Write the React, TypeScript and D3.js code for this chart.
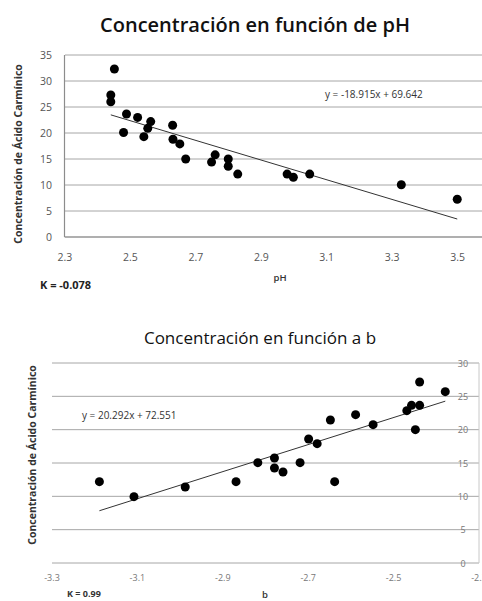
import React from "react";
import * as d3 from "d3";

// pH chart data
const phValues = [2.451, 2.44, 2.44, 2.488, 2.522, 2.562, 2.479, 2.553, 2.541, 2.629, 2.63, 2.651, 2.669, 2.748, 2.759, 2.799, 2.799, 2.828, 2.979, 2.998, 3.048, 3.328, 3.499];
const phConc = [32.3, 27.3, 26.0, 23.65, 23.0, 22.2, 20.1, 20.9, 19.3, 21.5, 18.8, 17.9, 15.0, 14.4, 15.8, 15.0, 13.6, 12.1, 12.1, 11.5, 12.1, 10.05, 7.25];
const phTicksX = [2.3, 2.5, 2.7, 2.9, 3.1, 3.3, 3.5];
const phTicksY = [0, 5, 10, 15, 20, 25, 30, 35];
const phFit = { slope: -18.915, intercept: 69.642 };

// b chart data
const bValues = [-2.439, -2.379, -2.469, -2.458, -2.439, -2.449, -2.548, -2.589, -2.648, -2.699, -2.679, -2.818, -2.779, -2.779, -2.759, -2.719, -2.638, -2.869, -2.988, -3.108, -3.189];
const bConc = [27.15, 25.7, 22.85, 23.65, 23.65, 20.0, 20.75, 22.25, 21.45, 18.6, 17.9, 15.05, 15.75, 14.25, 13.65, 15.05, 12.2, 12.2, 11.4, 9.95, 12.2];
const bTicksX = [-3.3, -3.1, -2.9, -2.7, -2.5, -2.3];
const bTicksY = [0, 5, 10, 15, 20, 25, 30];
const bFit = { slope: 20.292, intercept: 72.551 };

const font = "'Open Sans', 'DejaVu Sans', sans-serif";
const grid = "#a6a6a6";

function PhChart() {
  const x = d3.scaleLinear().domain([2.3, 3.7]).range([65, 523]);
  const y = d3.scaleLinear().domain([0, 35]).range([237, 55]);
  const pts = phValues.map((v, i) => ({ x: v, y: phConc[i] }));
  const [x0, x1] = d3.extent(phValues) as [number, number];
  const fit = (v: number) => phFit.slope * v + phFit.intercept;
  return (
    <g>
      <text x={255} y={32} textAnchor="middle" fontFamily={font} fontSize={20} fontWeight={600} fill="#111">
        Concentración en función de pH
      </text>
      {phTicksY.map((t) => (
        <g key={t}>
          <line x1={x.range()[0]} x2={482} y1={y(t)} y2={y(t)} stroke={grid} strokeWidth={1} />
          <text x={52} y={y(t) + 4} textAnchor="end" fontFamily={font} fontSize={10.5} fill="#555">
            {t}
          </text>
        </g>
      ))}
      <line x1={64.5} x2={64.5} y1={y(35)} y2={y(0)} stroke="#8c8c8c" strokeWidth={1.2} />
      <line x1={64.5} x2={482} y1={y(0)} y2={y(0)} stroke="#8c8c8c" strokeWidth={1.2} />
      {phTicksX.map((t) => (
        <text key={t} x={x(t)} y={261} textAnchor="middle" fontFamily={font} fontSize={10.5} fill="#555">
          {t.toFixed(1)}
        </text>
      ))}
      <line x1={x(x0)} y1={y(fit(x0))} x2={x(x1)} y2={y(fit(x1))} stroke="#333" strokeWidth={1} />
      {pts.map((p, i) => (
        <circle key={i} cx={x(p.x)} cy={y(p.y)} r={4.5} fill="#000" />
      ))}
      <text x={325} y={98} fontFamily={font} fontSize={10} fill="#333">
        y = -18.915x + 69.642
      </text>
      <text x={280} y={281} textAnchor="middle" fontFamily={font} fontSize={9.5} fontWeight={600} fill="#333">
        pH
      </text>
      <text x={40} y={289} fontFamily={font} fontSize={11} fontWeight={700} fill="#222">
        K = -0.078
      </text>
      <text
        transform={`translate(22,${(y(35) + y(0)) / 2 + 8}) rotate(-90)`}
        textAnchor="middle"
        fontFamily={font}
        fontSize={10.5}
        fontWeight={700}
        fill="#333"
      >
        Concentración de Ácido Carmínico
      </text>
    </g>
  );
}

function BChart() {
  const x = d3.scaleLinear().domain([-3.3, -2.3]).range([52, 479]);
  const y = d3.scaleLinear().domain([0, 30]).range([563, 363]);
  const pts = bValues.map((v, i) => ({ x: v, y: bConc[i] }));
  const [x0, x1] = d3.extent(bValues) as [number, number];
  const fit = (v: number) => bFit.slope * v + bFit.intercept;
  return (
    <g>
      <text x={260} y={344} textAnchor="middle" fontFamily={font} fontSize={17} fill="#111">
        Concentración en función a b
      </text>
      {bTicksY.map((t) => (
        <g key={t}>
          <line x1={52} x2={479} y1={y(t)} y2={y(t)} stroke={grid} strokeWidth={1} />
          <text x={463} y={y(t) + 3.5} textAnchor="middle" fontFamily={font} fontSize={9} fill="#777">
            {t}
          </text>
        </g>
      ))}
      <line x1={479} x2={479} y1={y(30)} y2={y(0)} stroke="#c8c8c8" strokeWidth={1} />
      {bTicksX.map((t) => (
        <text key={t} x={x(t)} y={581} textAnchor="middle" fontFamily={font} fontSize={9} fill="#777">
          {t.toFixed(1)}
        </text>
      ))}
      <line x1={x(x0)} y1={y(fit(x0))} x2={x(x1)} y2={y(fit(x1))} stroke="#333" strokeWidth={1} />
      {pts.map((p, i) => (
        <circle key={i} cx={x(p.x)} cy={y(p.y)} r={4.5} fill="#000" />
      ))}
      <text x={82} y={419} fontFamily={font} fontSize={10} fill="#333">
        y = 20.292x + 72.551
      </text>
      <text x={265} y={598} textAnchor="middle" fontFamily={font} fontSize={9.5} fontWeight={600} fill="#333">
        b
      </text>
      <text x={67} y={597} fontFamily={font} fontSize={9} fontWeight={700} fill="#333">
        K = 0.99
      </text>
      <text
        transform={`translate(36,455) rotate(-90)`}
        textAnchor="middle"
        fontFamily={font}
        fontSize={10.5}
        fontWeight={700}
        fill="#333"
      >
        Concentración de Ácido Carmínico
      </text>
    </g>
  );
}

export default function App() {
  return (
    <svg width={482} height={601} style={{ position: "absolute", left: 0, top: 0, background: "#fff" }}>
      <rect width={482} height={601} fill="#fff" />
      <PhChart />
      <BChart />
    </svg>
  );
}
